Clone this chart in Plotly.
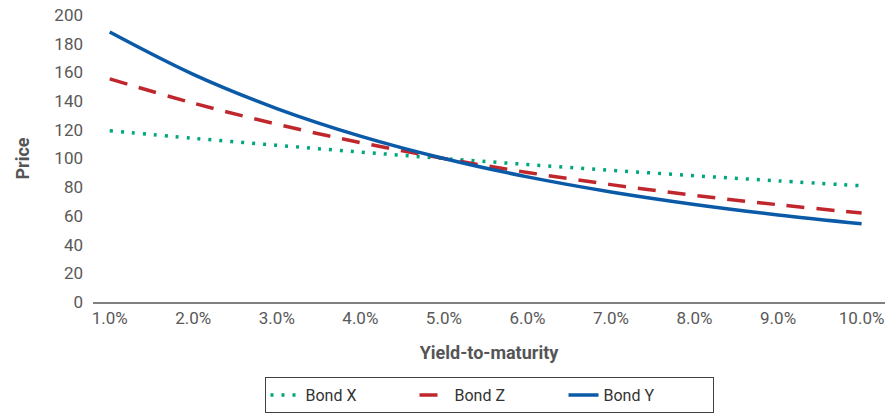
import plotly.graph_objects as go

# Yield-to-maturity (%) and bond prices
ytm = [1, 2, 3, 4, 5, 6, 7, 8, 9, 10]
ytm_labels = ["1.0%", "2.0%", "3.0%", "4.0%", "5.0%", "6.0%", "7.0%", "8.0%", "9.0%", "10.0%"]
bond_x = [119.4, 114.1, 109.2, 104.5, 100.0, 95.8, 91.8, 88.0, 84.4, 81.0]
bond_z = [155.5, 138.6, 123.9, 111.1, 100.0, 90.3, 81.8, 74.3, 67.8, 62.0]
bond_y = [188.1, 158.6, 134.8, 115.6, 100.0, 87.2, 76.7, 68.0, 60.7, 54.6]

TEXT = "#595959"
FONT = "Roboto"

fig = go.Figure()
fig.add_trace(go.Scatter(
    x=ytm, y=bond_x, name="Bond X", mode="lines", line_shape="spline",
    line=dict(color="#00a77e", width=3.5, dash="3px,8px"),
))
fig.add_trace(go.Scatter(
    x=ytm, y=bond_z, name="Bond Z", mode="lines", line_shape="spline",
    line=dict(color="#c0272d", width=3.5, dash="18px,12px"),
))
fig.add_trace(go.Scatter(
    x=ytm, y=bond_y, name="Bond Y", mode="lines", line_shape="spline",
    line=dict(color="#0b5aa8", width=3.5),
))

fig.update_layout(
    width=895, height=415,
    margin=dict(l=93, r=10, t=15, b=113, autoexpand=False),
    paper_bgcolor="white", plot_bgcolor="white",
    font=dict(family=FONT, size=17, color=TEXT),
    showlegend=True,
    legend=dict(
        orientation="h", x=0.5, xanchor="center", y=-0.262, yanchor="top",
        bordercolor="#404040", borderwidth=1,
        font=dict(family=FONT, size=16, color="#333333"),
        traceorder="normal", entrywidth=104,
    ),
    xaxis=dict(
        range=[0.8, 10.28],
        tickvals=ytm, ticktext=ytm_labels,
        showgrid=False, zeroline=False, automargin=False,
        showline=True, linecolor="#808080", linewidth=1.5,
        ticks="", ticklabelstandoff=0,
        title=dict(text="<b>Yield-to-maturity</b>", standoff=19,
                   font=dict(family=FONT, size=18, color="#555555")),
    ),
    yaxis=dict(
        range=[0, 200], dtick=20,
        showgrid=False, zeroline=False, showline=False, automargin=False,
        ticks="", ticklabelstandoff=9,
        title=dict(text="<b>Price</b>", standoff=20,
                   font=dict(family=FONT, size=18, color="#555555")),
    ),
)

# drop the browser's default 8px body margin so the figure fills the window
fig.write_html("out.html", config={"displayModeBar": False},
               post_script="document.body.style.margin='0';")
